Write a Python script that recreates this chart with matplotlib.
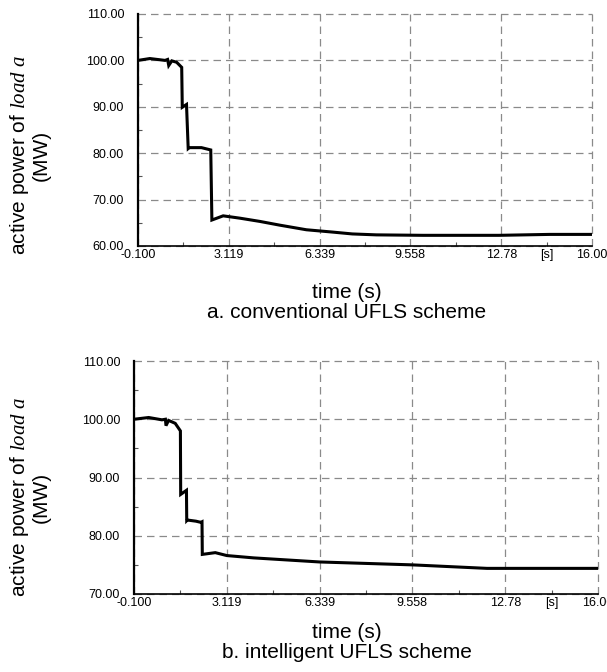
import matplotlib
matplotlib.use("Agg")
import matplotlib.pyplot as plt

plt.rcParams['font.family'] = ['Liberation Sans', 'DejaVu Sans']
plt.rcParams['mathtext.fontset'] = 'custom'
plt.rcParams['mathtext.rm'] = 'Liberation Sans'
plt.rcParams['mathtext.it'] = 'Liberation Serif:italic'

# ---- data ----
t_a = [-0.1, 0.32, 0.86, 0.95, 0.99, 1.10, 1.27, 1.45, 1.47, 1.62, 1.68, 1.72, 2.15, 2.48, 2.52,
       2.92, 3.51, 4.22, 4.92, 5.87, 6.8, 7.5, 8.35, 10.0, 12.7, 14.5, 16.0]
p_a = [100.0, 100.4, 100.0, 100.2, 98.9, 99.9, 99.6, 98.5, 89.9, 90.5, 81.0, 81.2, 81.2, 80.7, 65.6,
       66.5, 66.0, 65.3, 64.5, 63.5, 63.0, 62.6, 62.4, 62.3, 62.3, 62.5, 62.5]

t_b = [-0.1, 0.41, 0.87, 0.99, 1.01, 1.10, 1.33, 1.51, 1.52, 1.72, 1.73, 1.75, 2.05, 2.22, 2.26,
       2.27, 2.72, 3.12, 4.05, 6.34, 9.56, 12.15, 14.5, 16.0]
p_b = [100.0, 100.3, 99.9, 100.0, 98.9, 99.8, 99.3, 98.0, 87.1, 87.8, 82.6, 82.7, 82.5, 82.3, 82.4,
       76.8, 77.1, 76.6, 76.2, 75.5, 75.0, 74.4, 74.4, 74.4]

xticks = [-0.1, 3.119, 6.339, 9.558, 12.78, 16.0]
xticklabels = ["-0.100", "3.119", "6.339", "9.558", "12.78", "16.00"]
yticks_a = [60, 70, 80, 90, 100, 110]
yticks_b = [70, 80, 90, 100, 110]
captions = ["a. conventional UFLS scheme", "b. intelligent UFLS scheme"]

W, H = 607, 672
fig = plt.figure(figsize=(W / 100, H / 100), dpi=100)

def px_axes(l, t, r, b):
    return fig.add_axes([l / W, 1 - b / H, (r - l) / W, (b - t) / H])

def style(ax, t, p, yticks, ylim):
    ax.plot(t, p, color='black', lw=2.2, solid_joinstyle='miter', zorder=3)
    ax.set_xlim(-0.1, 16.0)
    ax.set_ylim(*ylim)
    ax.set_xticks(xticks)
    ax.set_xticklabels(xticklabels)
    ax.set_yticks(yticks)
    ax.set_yticklabels([f"{v:.2f}" for v in yticks])
    mx = [(xticks[i] + xticks[i + 1]) / 2 for i in range(len(xticks) - 1)]
    my = [(yticks[i] + yticks[i + 1]) / 2 for i in range(len(yticks) - 1)]
    ax.set_xticks(mx, minor=True)
    ax.set_yticks(my, minor=True)
    ax.tick_params(which='major', length=0, labelsize=9, colors='black')
    ax.tick_params(axis='x', which='major', pad=2)
    ax.tick_params(axis='y', which='major', pad=10)
    ax.tick_params(which='minor', direction='in', length=3, width=0.8, color='#555555')
    ax.grid(True, which='major', color='#8a8a8a', ls=(0, (6, 4)), lw=0.9)
    for g in ax.get_xgridlines() + ax.get_ygridlines():
        g.set_clip_on(False)
    ax.spines['top'].set_visible(False)
    ax.spines['right'].set_visible(False)
    ax.spines['left'].set_linewidth(1.6)
    ax.spines['bottom'].set_linewidth(1.2)
    ax.annotate("[s]", xy=(14.39, 0), xycoords=('data', 'axes fraction'),
                xytext=(0, -2), textcoords='offset points',
                ha='center', va='top', fontsize=9)

ax1 = px_axes(138, 14, 592, 246)
style(ax1, t_a, p_a, yticks_a, (60, 110))
ax2 = px_axes(134, 361, 598, 594)
style(ax2, t_b, p_b, yticks_b, (70, 110))

ylab = "active power of $\\mathit{load\\ a}$\n(MW)"
for yc in (155, 497):
    fig.text(29 / W, 1 - yc / H, ylab, rotation=90, ha='center', va='center',
             multialignment='center', fontsize=15, linespacing=1.05)

for (y1, y2), cap in zip([(292, 313), (632, 652)], captions):
    fig.text(347 / W, 1 - y1 / H, "time (s)", ha='center', va='center', fontsize=15)
    fig.text(347 / W, 1 - y2 / H, cap, ha='center', va='center', fontsize=15)

fig.savefig("out.png", dpi=100)
